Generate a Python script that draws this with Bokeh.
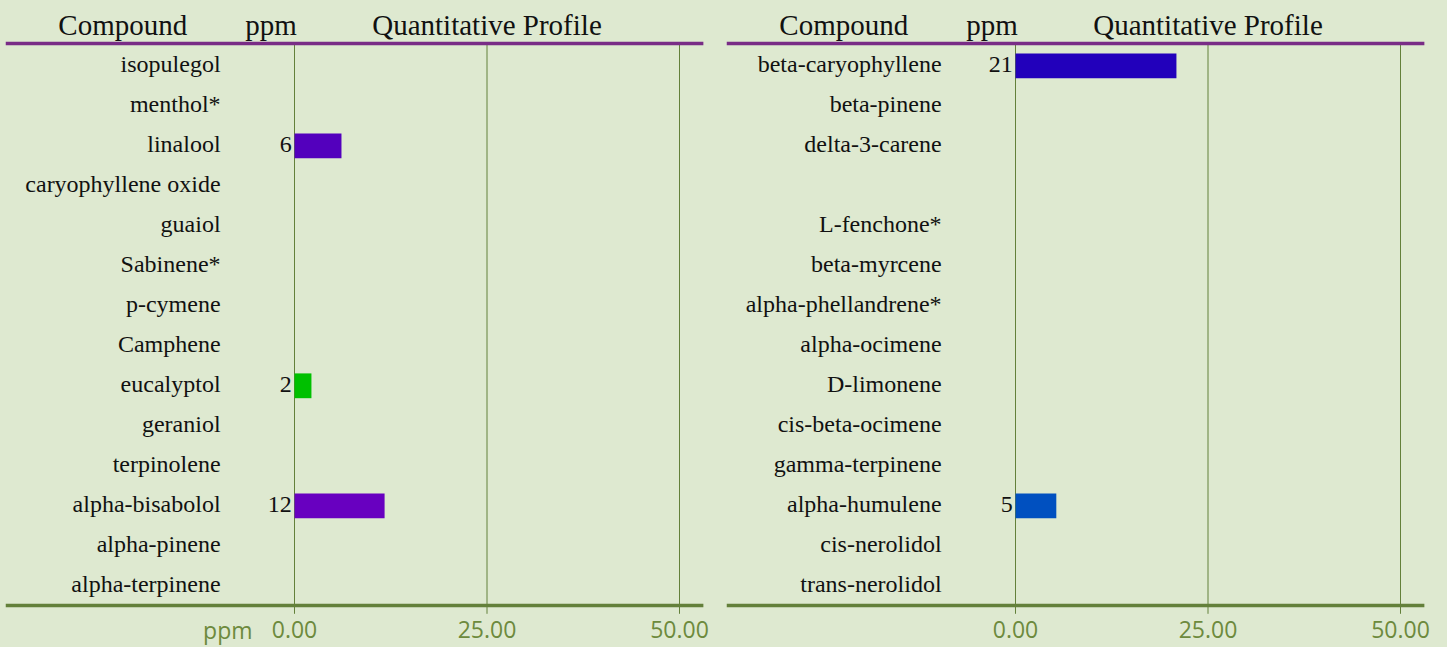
from bokeh.plotting import figure
from bokeh.layouts import row
from bokeh.models import Range1d, ColumnDataSource
from bokeh.core.properties import value
from bokeh.embed import file_html
from bokeh.resources import INLINE

# ---------------- data ----------------
left_compounds = ["isopulegol", "menthol*", "linalool", "caryophyllene oxide", "guaiol",
                  "Sabinene*", "p-cymene", "Camphene", "eucalyptol", "geraniol",
                  "terpinolene", "alpha-bisabolol", "alpha-pinene", "alpha-terpinene"]
left_ppm = [None, None, 6.1, None, None, None, None, None, 2.2, None, None, 11.7, None, None]
left_labels = ["", "", "6", "", "", "", "", "", "2", "", "", "12", "", ""]
left_colors = ["", "", "#5300bd", "", "", "", "", "", "#00c000", "", "", "#6800c0", "", ""]

right_compounds = ["beta-caryophyllene", "beta-pinene", "delta-3-carene", "", "L-fenchone*",
                   "beta-myrcene", "alpha-phellandrene*", "alpha-ocimene", "D-limonene",
                   "cis-beta-ocimene", "gamma-terpinene", "alpha-humulene", "cis-nerolidol",
                   "trans-nerolidol"]
right_ppm = [20.9, None, None, None, None, None, None, None, None, None, None, 5.3, None, None]
right_labels = ["21", "", "", "", "", "", "", "", "", "", "", "5", "", ""]
right_colors = ["#2200bb", "", "", "", "", "", "", "", "", "", "", "#0050c0", "", ""]

tick_values = [0, 25, 50]
tick_labels = ["0.00", "25.00", "50.00"]
headers = ["Compound", "ppm", "Quantitative Profile"]
header_x = [-22.3, -3.05, 25.0]

# ---------------- styling ----------------
BG = "#dee9d0"
SERIF = value("Liberation Serif")
SANS = value("Open Sans")
OLIVE = "#63803a"
TICK_TXT = "#6d8a3d"
PURPLE = "#792c86"
H = 647
ROW0 = 65.3
Y_TOP = -ROW0 / 40.0
Y_BOTTOM = (H - ROW0) / 40.0


def panel(compounds, ppm, labels, colors, x_start, x_end, width, show_unit):
    p = figure(width=width, height=H, output_backend="svg", toolbar_location=None,
               x_axis_type=None, y_axis_type=None, min_border=0,
               x_range=Range1d(x_start, x_end), y_range=Range1d(Y_BOTTOM, Y_TOP))
    p.background_fill_color = BG
    p.border_fill_color = BG
    p.outline_line_color = None
    p.xgrid.visible = False
    p.ygrid.visible = False

    n = len(compounds)
    idx = list(range(n))

    # grid lines + ticks
    p.segment(x0=tick_values, x1=tick_values, y0=[-0.5325] * 3, y1=[13.7] * 3,
              line_color=OLIVE, line_width=1)

    # header line & bottom axis line
    p.segment(x0=[-37.5], x1=[53.1], y0=[-0.5575], y1=[-0.5575], line_color=PURPLE, line_width=3.5)
    p.segment(x0=[-37.5], x1=[53.1], y0=[13.49], y1=[13.49], line_color=OLIVE, line_width=3.5)

    # headers
    p.text(x=header_x, y=[-1.03] * 3, text=headers, text_font=SERIF, text_font_size="29px",
           text_align="center", text_baseline="middle", text_color="#111111")

    # compound labels
    p.text(x=[-9.6] * n, y=[i - 0.045 for i in idx], text=compounds, text_font=SERIF,
           text_font_size="24px", text_align="right", text_baseline="middle",
           text_color="#111111")

    # bars
    bi = [i for i in idx if ppm[i] is not None]
    src = ColumnDataSource(dict(y=bi, right=[ppm[i] for i in bi], color=[colors[i] for i in bi],
                                lab=[labels[i] for i in bi], ly=[i - 0.045 for i in bi],
                                lx=[-0.35] * len(bi)))
    p.hbar(y="y", left=0, right="right", height=0.62, fill_color="color", line_color=None, source=src)
    p.text(x="lx", y="ly", text="lab", source=src, text_font=SERIF, text_font_size="24px",
           text_align="right", text_baseline="middle", text_color="#111111")

    # tick labels
    p.text(x=tick_values, y=[14.1] * 3, text=tick_labels, text_font=SANS, text_font_size="23px",
           text_align="center", text_baseline="middle", text_color=TICK_TXT)
    if show_unit:
        p.text(x=[-5.45], y=[14.1], text=["ppm"], text_font=SANS, text_font_size="23px",
               text_align="right", text_baseline="middle", text_color=TICK_TXT)
    return p


left = panel(left_compounds, left_ppm, left_labels, left_colors,
             -294 / 7.7, (720 - 294) / 7.7, 720, True)
right = panel(right_compounds, right_ppm, right_labels, right_colors,
              -295 / 7.7, (727 - 295) / 7.7, 727, False)

layout = row(left, right, spacing=0)
layout.background = BG

with open("out.html", "w") as f:
    f.write(file_html(layout, INLINE))
